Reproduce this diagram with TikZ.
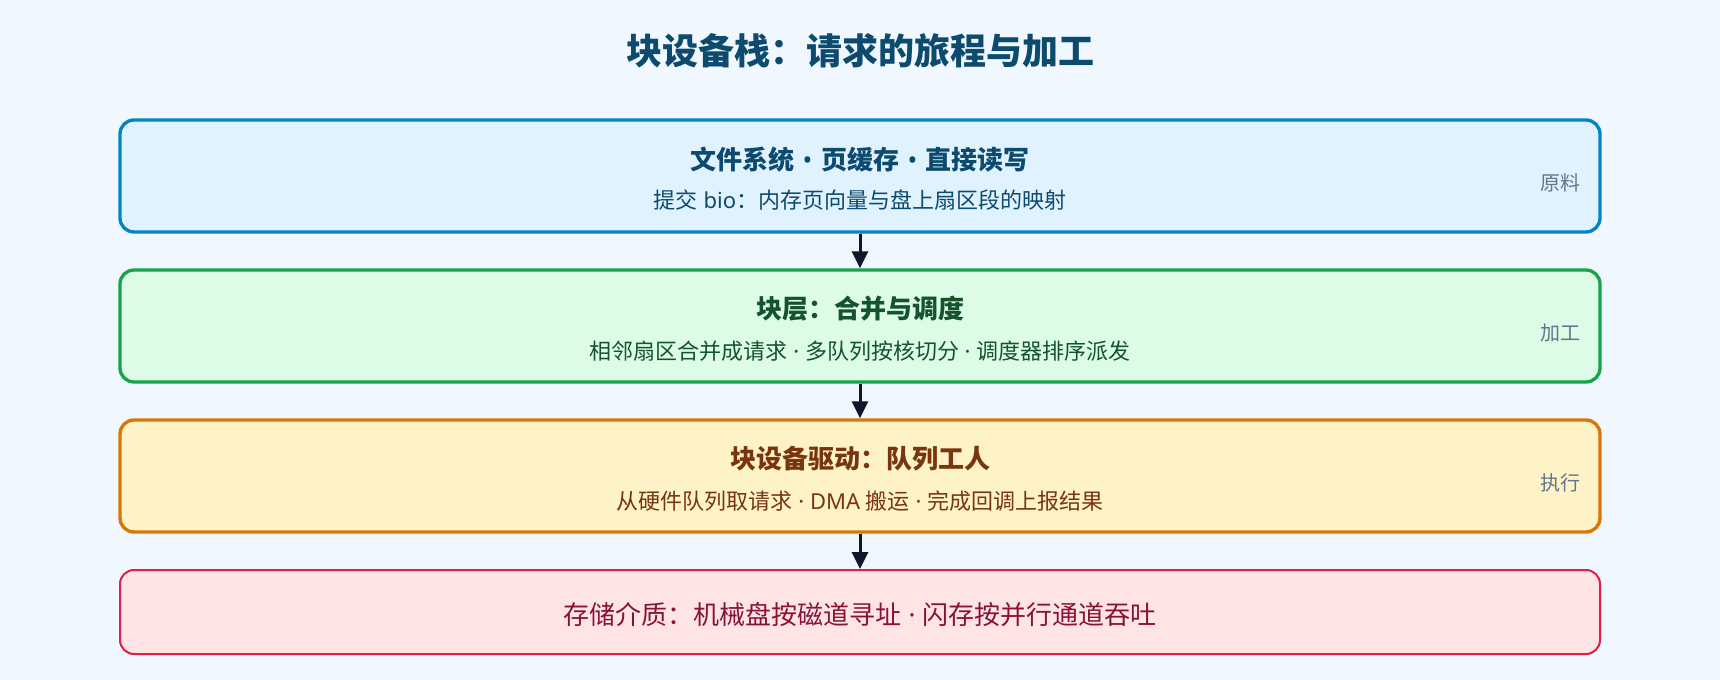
\documentclass[tikz,border=0pt]{standalone}
\usepackage{fontspec}
\setmainfont{Noto Sans CJK SC}
\newfontfamily\latinsf{Noto Sans}
\newcommand{\midsep}{{\latinsf\ ·\ }}
\newcommand{\bulsep}{{\latinsf\ \hspace{1.3pt}•\hspace{1.3pt}\ }}
\usetikzlibrary{arrows.meta}
\definecolor{bg}{HTML}{F0F7FF}
\definecolor{titlec}{HTML}{0C4A6E}
\definecolor{fillA}{HTML}{E0F2FE}
\definecolor{drawA}{HTML}{0284C7}
\definecolor{textA}{HTML}{0C4A6E}
\definecolor{fillB}{HTML}{DCFCE7}
\definecolor{drawB}{HTML}{16A34A}
\definecolor{textB}{HTML}{14532D}
\definecolor{fillC}{HTML}{FEF3C7}
\definecolor{drawC}{HTML}{D97706}
\definecolor{textC}{HTML}{78350F}
\definecolor{fillD}{HTML}{FFE4E6}
\definecolor{drawD}{HTML}{E11D48}
\definecolor{textD}{HTML}{881337}
\definecolor{labelc}{HTML}{64748B}
\definecolor{arrowc}{HTML}{0F172A}
\begin{document}
\begin{tikzpicture}[x=0.75pt,y=-0.75pt,
  stage/.style={draw, line width=2.5pt, rounded corners=10.5pt, inner sep=0pt,
    minimum width=1110pt, minimum height=84pt},
  media/.style={draw, line width=1.5pt, rounded corners=10.5pt, inner sep=0pt,
    minimum width=1110pt, minimum height=63pt},
  head/.style={font=\fontsize{19.5pt}{24pt}\selectfont\bfseries, inner sep=0pt},
  sub/.style={font=\fontsize{16.5pt}{20pt}\selectfont, inner sep=0pt},
  tag/.style={font=\fontsize{15pt}{18pt}\selectfont, text=labelc, inner sep=0pt, anchor=east},
  arr/.style={draw=arrowc, line width=2.25pt, -{Triangle[length=12.75pt, width=12pt]}}
]
\fill[bg] (0,0) rectangle (1720,680);
\useasboundingbox (0,0) rectangle (1720,680);

\node[font=\fontsize{27pt}{32pt}\selectfont\bfseries, text=titlec, inner sep=0pt] (title) at (860,50.5) {块设备栈：请求的旅程与加工};

\node[stage, fill=fillA, draw=drawA] (b1) at (860,176) {};
\node[stage, fill=fillB, draw=drawB] (b2) at (860,326) {};
\node[stage, fill=fillC, draw=drawC] (b3) at (860,476) {};
\node[media, fill=fillD, draw=drawD] (b4) at (860,612) {};

\node[head, text=textA] (h1) at (860,160) {文件系统\bulsep{}页缓存\bulsep{}直接读写};
\node[sub, text=textA] (s1) at (860,200.5) {提交{\latinsf\ bio}：内存页向量与盘上扇区段的映射};
\node[tag] (t1) at (1581,183) {原料};

\node[head, text=textB] (h2) at (860,309) {块层：合并与调度};
\node[sub, text=textB] (s2) at (860,351.5) {相邻扇区合并成请求\midsep{}多队列按核切分\midsep{}调度器排序派发};
\node[tag] (t2) at (1581,333) {加工};

\node[head, text=textC] (h3) at (860,459) {块设备驱动：队列工人};
\node[sub, text=textC] (s3) at (860,501.5) {从硬件队列取请求\midsep{}{\latinsf DMA\ }搬运\midsep{}完成回调上报结果};
\node[tag] (t3) at (1581,483) {执行};

\node[font=\fontsize{19.5pt}{24pt}\selectfont, text=textD, inner sep=0pt] (m4) at (860,615) {存储介质：机械盘按磁道寻址\midsep{}闪存按并行通道吞吐};

\draw[arr] (b1.south) -- (b2.north);
\draw[arr] (b2.south) -- (b3.north);
\draw[arr] (b3.south) -- (b4.north);
\end{tikzpicture}
\end{document}
